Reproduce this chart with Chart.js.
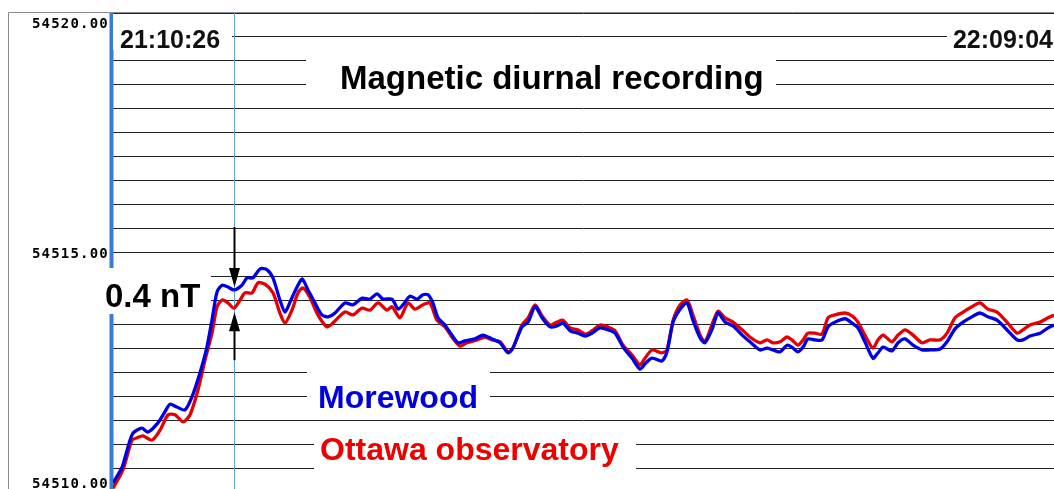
<!DOCTYPE html>
<html><head><meta charset="utf-8">
<script src="https://cdn.jsdelivr.net/npm/chart.js@4"></script>
<style>html,body{margin:0;padding:0;background:#fff;}canvas{display:block;}</style>
</head><body>
<canvas id="c" width="1054" height="489"></canvas>
<script>
// ---- data (time in seconds after 21:10:26, field in nT) ----
const startLabel = '21:10:26';
const endLabel = '22:09:04';
const titleText = 'Magnetic diurnal recording';
const seriesNames = ['Morewood', 'Ottawa observatory'];
const deltaLabel = '0.4 nT';
const cursorTime = 452;
const yMin = 54510.0833, yMax = 54520, gridStep = 0.5;
const yTickValues = [54510, 54515, 54520];
const yTickLabels = ['54510.00', '54515.00', '54520.00'];

const timeMorewoodEarly = [0,34,56,75,108,131,168,194,213,239,269,295,325,351,370,389,408,430,452,482,501,523,550,576,598,624,643,662,688,707,729,755,781,804,830,867,897,931,961,987,1009,1043,1066,1084,1110,1137,1159,1178,1196,1215,1241,1267,1290,1316,1353,1383,1417];
const morewoodEarly = [54510.21,54510.54,54510.96,54511.25,54511.35,54511.27,54511.46,54511.69,54511.85,54511.79,54511.73,54512.00,54512.50,54513.04,54513.60,54514.19,54514.33,54514.29,54514.23,54514.33,54514.48,54514.48,54514.67,54514.65,54514.48,54514.02,54513.77,54513.98,54514.29,54514.46,54514.23,54513.96,54513.71,54513.67,54513.75,54513.96,54513.92,54514.06,54514.04,54514.15,54514.04,54514.04,54513.83,54513.92,54514.10,54514.04,54514.13,54514.13,54513.96,54513.65,54513.50,54513.29,54513.13,54513.17,54513.21,54513.29,54513.21];

const timeOttawaEarly = [0,37,71,90,112,146,176,206,232,262,288,318,344,370,389,408,430,452,475,493,520,542,568,598,624,643,669,692,710,736,766,800,822,867,897,931,961,991,1024,1043,1073,1103,1129,1159,1185,1211,1241,1267,1297,1323,1361,1391,1417];
const ottawaEarly = [54510.10,54510.48,54511.10,54511.15,54511.19,54511.10,54511.31,54511.63,54511.63,54511.48,54511.63,54512.15,54512.77,54513.33,54513.88,54514.02,54513.96,54513.85,54514.02,54514.17,54514.17,54514.38,54514.35,54514.17,54513.75,54513.54,54513.81,54514.17,54514.27,54514.08,54513.71,54513.46,54513.54,54513.77,54513.71,54513.85,54513.81,54513.96,54513.81,54513.88,54513.65,54513.96,54513.83,54513.92,54513.96,54513.60,54513.46,54513.25,54513.06,54513.13,54513.19,54513.25,54513.19];

const timeLate = [1447,1477,1495,1529,1552,1578,1604,1634,1660,1682,1709,1738,1765,1791,1821,1851,1877,1907,1940,1970,1989,2015,2052,2071,2094,2120,2146,2168,2195,2213,2239,2262,2288,2318,2352,2381,2419,2445,2467,2494,2520,2538,2561,2580,2598,2624,2651,2673,2699,2737,2763,2785,2811,2841,2860,2879,2912,2935,2961,2991,3025,3054,3092,3118,3148,3178,3211,3241,3271,3305,3342,3380,3402,3428,3466,3496,3518];
const morewoodLate = [54513.13,54512.92,54513.02,54513.46,54513.56,54513.88,54513.65,54513.46,54513.48,54513.54,54513.38,54513.33,54513.27,54513.33,54513.44,54513.40,54513.33,54513.04,54512.81,54512.58,54512.69,54512.81,54512.75,54512.94,54513.56,54513.83,54513.96,54513.60,54513.23,54513.13,54513.40,54513.75,54513.56,54513.48,54513.29,54513.15,54512.98,54513.02,54512.98,54512.94,54513.08,54513.04,54512.94,54513.04,54513.21,54513.19,54513.19,54513.46,54513.56,54513.63,54513.54,54513.44,54513.15,54512.81,54512.92,54513.04,54512.96,54513.13,54513.21,54513.08,54512.98,54512.98,54513.00,54513.15,54513.42,54513.56,54513.67,54513.75,54513.67,54513.60,54513.40,54513.19,54513.19,54513.27,54513.33,54513.44,54513.50];
const ottawaLate = [54513.15,54512.94,54513.02,54513.50,54513.65,54513.92,54513.69,54513.50,54513.56,54513.60,54513.44,54513.40,54513.31,54513.38,54513.50,54513.46,54513.38,54513.08,54512.88,54512.67,54512.81,54512.98,54512.92,54512.98,54513.60,54513.92,54514.02,54513.71,54513.29,54513.15,54513.50,54513.79,54513.65,54513.56,54513.40,54513.25,54513.13,54513.19,54513.13,54513.15,54513.25,54513.19,54513.08,54513.19,54513.33,54513.33,54513.31,54513.65,54513.71,54513.75,54513.69,54513.56,54513.29,54513.02,54513.19,54513.29,54513.15,54513.29,54513.40,54513.29,54513.13,54513.19,54513.19,54513.33,54513.65,54513.77,54513.88,54513.96,54513.83,54513.77,54513.56,54513.33,54513.40,54513.50,54513.56,54513.65,54513.71];

// ---- build points ----
const morewoodT = timeMorewoodEarly.concat(timeLate);
const morewoodV = morewoodEarly.concat(morewoodLate);
const ottawaT = timeOttawaEarly.concat(timeLate);
const ottawaV = ottawaEarly.concat(ottawaLate);
const morewoodPts = morewoodT.map((t, i) => ({x: t, y: morewoodV[i]}));
const ottawaPts = ottawaT.map((t, i) => ({x: t, y: ottawaV[i]}));

const SANS = '"Liberation Sans", Arial, sans-serif';

const overlay = {
  id: 'overlay',
  beforeDatasetsDraw(chart) {
    const {ctx, chartArea: a, scales: {x, y}} = chart;
    ctx.save();
    // outer frame
    ctx.strokeStyle = '#8c8c8c'; ctx.lineWidth = 1;
    ctx.beginPath(); ctx.moveTo(8.5, chart.height); ctx.lineTo(8.5, 12.5); ctx.lineTo(chart.width, 12.5); ctx.stroke();
    // axis bar
    ctx.fillStyle = '#3a7bd5';
    ctx.fillRect(a.left - 3.5, a.top, 4, a.bottom - a.top);
    // cursor line
    const cx = Math.round(x.getPixelForValue(cursorTime)) + 0.5;
    ctx.strokeStyle = '#5d9ee0'; ctx.lineWidth = 1;
    ctx.beginPath(); ctx.moveTo(cx, a.top); ctx.lineTo(cx, chart.height); ctx.stroke();

    // y labels
    ctx.fillStyle = '#000';
    ctx.font = 'bold 14px "DejaVu Sans Mono", monospace';
    try { ctx.letterSpacing = '1.2px'; } catch (e) {}
    ctx.textAlign = 'right'; ctx.textBaseline = 'alphabetic';
    yTickValues.forEach((v, i) => {
      let py = y.getPixelForValue(v);
      py = Math.min(Math.max(py, a.top + 10), a.bottom - 6);
      ctx.fillText(yTickLabels[i], 109, py + 5);
    });
    try { ctx.letterSpacing = '0px'; } catch (e) {}

    // label boxes (white, hide grid) and texts
    const labels = [
      {t: startLabel, box: [113, 14, 119, 36], x: 120, b: 48, f: 'bold 25px ' + SANS, c: '#111', al: 'left'},
      {t: endLabel, box: [947, 14, 107, 36], x: 1053, b: 48, f: 'bold 25px ' + SANS, c: '#111', al: 'right'},
      {t: titleText, box: [306, 50, 470, 48], x: 340, b: 89, f: 'bold 33px ' + SANS, c: '#000', al: 'left'},
      {t: deltaLabel, box: [99, 268, 112, 46], x: 105, b: 307, f: 'bold 33px ' + SANS, c: '#000', al: 'left'},
      {t: seriesNames[0], box: [307, 362, 183, 48], x: 318, b: 408, f: 'bold 32px ' + SANS, c: '#0000dd', al: 'left'},
      {t: seriesNames[1], box: [314, 433, 322, 48], x: 320, b: 460, f: 'bold 32px ' + SANS, c: '#ee0000', al: 'left'}
    ];
    labels.forEach(l => {
      ctx.fillStyle = '#fff';
      ctx.fillRect(l.box[0], l.box[1], l.box[2], l.box[3]);
      ctx.fillStyle = l.c; ctx.font = l.f; ctx.textAlign = l.al; ctx.textBaseline = 'alphabetic';
      ctx.fillText(l.t, l.x, l.b);
    });
    ctx.restore();
  },
  afterDatasetsDraw(chart) {
    const {ctx, scales: {x, y}} = chart;
    const cx = Math.round(x.getPixelForValue(cursorTime)) + 0.5;
    const vb = morewoodV[morewoodT.indexOf(cursorTime)];
    const vr = ottawaV[ottawaT.indexOf(cursorTime)];
    const tipDown = y.getPixelForValue(vb) - 3;
    const tipUp = y.getPixelForValue(vr) + 4;
    ctx.save();
    ctx.strokeStyle = '#000'; ctx.fillStyle = '#000'; ctx.lineWidth = 2;
    ctx.beginPath(); ctx.moveTo(cx, tipDown - 60); ctx.lineTo(cx, tipDown - 15); ctx.stroke();
    ctx.beginPath(); ctx.moveTo(cx - 5.5, tipDown - 19); ctx.lineTo(cx + 5.5, tipDown - 19); ctx.lineTo(cx, tipDown); ctx.closePath(); ctx.fill();
    ctx.beginPath(); ctx.moveTo(cx, tipUp + 15); ctx.lineTo(cx, tipUp + 48); ctx.stroke();
    ctx.beginPath(); ctx.moveTo(cx - 5.5, tipUp + 19); ctx.lineTo(cx + 5.5, tipUp + 19); ctx.lineTo(cx, tipUp); ctx.closePath(); ctx.fill();
    ctx.restore();
  }
};

new Chart(document.getElementById('c'), {
  type: 'line',
  data: {
    datasets: [
      {label: seriesNames[0], data: morewoodPts, borderColor: '#0000e6', borderWidth: 3.3, pointRadius: 0, tension: 0.25, fill: false},
      {label: seriesNames[1], data: ottawaPts, borderColor: '#e60000', borderWidth: 3.3, pointRadius: 0, tension: 0.25, fill: false}
    ]
  },
  options: {
    responsive: false,
    animation: false,
    events: [],
    layout: {padding: {top: 13, left: 0, right: 0, bottom: 0}},
    plugins: {legend: {display: false}, tooltip: {enabled: false}, title: {display: false}},
    scales: {
      x: {type: 'linear', min: 0, max: 3518, display: false},
      y: {
        type: 'linear', min: yMin, max: yMax,
        ticks: {display: false, stepSize: gridStep},
        grid: {color: '#222', lineWidth: 1, drawTicks: false},
        border: {display: false},
        afterBuildTicks(scale) {
          const t = [];
          for (let v = yMax; v > yMin; v -= gridStep) t.push({value: v});
          scale.ticks = t;
        },
        afterFit(scale) { scale.width = 113; }
      }
    }
  },
  plugins: [overlay]
});
</script>
</body></html>
